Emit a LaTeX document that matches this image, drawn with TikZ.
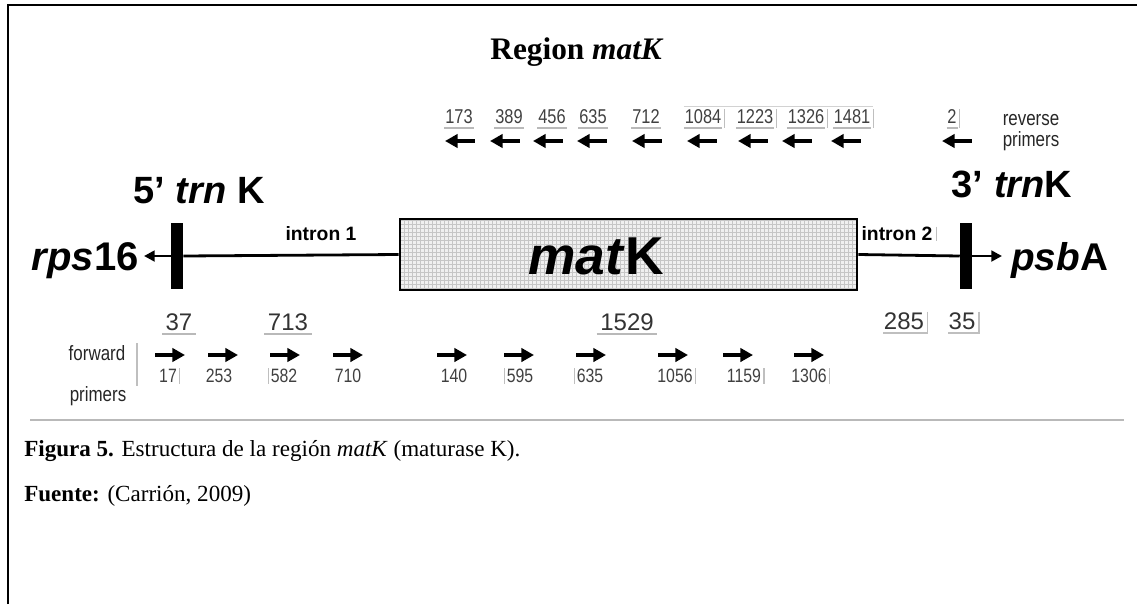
\documentclass[tikz,border=0pt]{standalone}
\usepackage{fontspec}
\setmainfont{Liberation Serif}
\newfontfamily\hv{Liberation Sans}
\newfontfamily\hvn[FakeStretch=0.82]{Liberation Sans}
\usetikzlibrary{arrows.meta,patterns}

\tikzset{
  frameline/.style={line width=2pt, black},
  sep/.style={line width=1.6pt, gray!55},
  gene/.style={font=\hv\bfseries, inner sep=0pt, anchor=base},
  intron/.style={font=\hv\bfseries\fontsize{14.5}{15}\selectfont, inner sep=0pt},
  exonbar/.style={fill=black, inner sep=0pt, minimum width=9pt, minimum height=49.5pt},
  spine/.style={line width=2.1pt, black},
  rnum/.style={font=\hvn\fontsize{15}{15}\selectfont, text=black!75, inner sep=0.5pt},
  fnum/.style={font=\hvn\fontsize{14.5}{15}\selectfont, text=black!75, inner sep=0.5pt},
  bnum/.style={font=\hv\fontsize{18}{18}\selectfont, text=black!80, inner sep=0.5pt},
  side/.style={font=\hvn\fontsize{15.5}{16}\selectfont, text=black!85, inner sep=0pt},
  ul/.style={line width=1.4pt, gray!55},
  tick/.style={line width=0.8pt, gray!50},
  rarrow/.style={line width=2.8pt, {Triangle[length=9.5pt,width=10pt]}-},
  farrow/.style={line width=2.8pt, -{Triangle[length=9.5pt,width=10pt]}},
  endarrow/.style={spine, -{Triangle[length=8pt,width=8pt]}}
}

\begin{document}
\begin{tikzpicture}[x=0.75pt,y=-0.75pt]
\useasboundingbox (0,0) rectangle (1137,604);

% frame
\coordinate (fa) at (8,604);
\coordinate (fb) at (8,5);
\coordinate (fc) at (1137,5);
\draw[frameline] (fa) -- (fb) -- (fc);

% title
\node[inner sep=0pt, anchor=base, font=\bfseries\fontsize{23.5}{24}\selectfont] (title) at (577,59) {Region \textit{matK}};

% gene model
\node[exonbar] (bar5) at (177,256) {};
\node[exonbar] (bar3) at (966,256) {};
\node[draw=black, line width=2pt, preaction={fill=gray!12}, pattern=grid, pattern color=gray!45,
      minimum width=342.75pt, minimum height=53.25pt, inner sep=0pt] (box) at (628.5,254.5) {};
\node[font=\hv\bfseries\fontsize{40}{40}\selectfont, inner sep=0pt] (matk) at (596,256) {\textit{mat}K};

\coordinate (ltip) at (144,256);
\coordinate (rtip) at (1002,256);
\draw[spine] (bar5.east) -- (box.west);
\draw[spine] (box.east) -- (bar3.west);
\draw[endarrow] (bar5.west) -- (ltip);
\draw[endarrow] (bar3.east) -- (rtip);

\node[gene, anchor=base east, font=\hv\bfseries\fontsize{30}{30}\selectfont] (rps) at (139,270) {\textit{rps}16};
\node[gene, anchor=base west, font=\hv\bfseries\fontsize{29}{30}\selectfont] (psb) at (1011,270) {\textit{psb}A};
\node[gene, font=\hv\bfseries\fontsize{28.5}{30}\selectfont] (trn5) at (199,203) {5’ \textit{trn} K};
\node[gene, font=\hv\bfseries\fontsize{28.5}{30}\selectfont] (trn3) at (1012,197) {3’ \textit{trn}K};

\node[intron] (in1) at (321,234) {intron 1};
\node[intron] (in2) at (897,234) {intron 2};
\draw[tick] ([xshift=3pt]in2.north east) -- ([xshift=3pt]in2.south east);

% reverse primers
\foreach \n/\x/\ax in {173/459/460, 389/509/505, 456/552/548, 635/593/592, 712/646/647,
                       1084/703/702, 1223/755/753, 1326/806/797, 1481/852/846, 2/952/957}{
  \node[rnum] (r\n) at (\x,117) {\n};
  \draw[ul] ([yshift=-2pt]r\n.south west) -- ([yshift=-2pt]r\n.south east);
  \coordinate (ra\n) at (\ax-15,141);
  \coordinate (rb\n) at (\ax+15,141);
  \draw[rarrow] (ra\n) -- (rb\n);
}
\foreach \n in {1084,1223,1326,1481,2}{
  \draw[tick] ([xshift=1.5pt]r\n.north east) -- ([xshift=1.5pt,yshift=-2pt]r\n.south east);
}
\draw[tick, gray!35] ([yshift=2pt]r1084.north west) -- ([yshift=2pt,xshift=1.5pt]r1481.north east);
\node[side] (rev) at (1031,120) {reverse};
\node[side] (revp) at (1031,141) {primers};

% lengths of the segments
\foreach \n/\x in {37/179, 713/288, 1529/627}{
  \node[bnum] (b\n) at (\x,322) {\n};
  \draw[ul] ([yshift=-2pt,xshift=-2pt]b\n.south west) -- ([yshift=-2pt,xshift=2pt]b\n.south east);
}
\node[bnum] (b285) at (904,321) {285};
\node[bnum] (b35) at (962,321) {35};
\foreach \n in {285,35}{
  \draw[tick, line width=1.2pt] ([xshift=2pt]b\n.north east) -- ([xshift=2pt,yshift=-2pt]b\n.south east)
        -- ([yshift=-2pt]b\n.south west);
}

% forward primers
\foreach \n/\x/\ax in {17/168/170, 253/219/223, 582/284/285, 710/348/348, 140/454/452,
                       595/520/519, 635/590/591, 1056/675/673, 1159/744/738, 1306/809/809}{
  \node[fnum] (f\n) at (\x,376) {\n};
  \coordinate (fa\n) at (\ax-15,355);
  \coordinate (fb\n) at (\ax+15,355);
  \draw[farrow] (fa\n) -- (fb\n);
}
\foreach \n in {17,1056,1159,1306}{
  \draw[tick] ([xshift=1.5pt]f\n.north east) -- ([xshift=1.5pt]f\n.south east);
}
\foreach \n in {582,635,595}{
  \draw[tick] ([xshift=-1pt]f\n.north west) -- ([xshift=-1pt]f\n.south west);
}
\node[side] (fwd) at (97,353) {forward};
\node[side] (fwdp) at (98,396) {primers};
\coordinate (fta) at (137,343);
\coordinate (ftb) at (137,386);
\draw[tick] (fta) -- (ftb);

% rule under the figure
\coordinate (sa) at (30,420);
\coordinate (sb) at (1124,420);
\draw[sep] (sa) -- (sb);

% caption
\node[inner sep=0pt, anchor=base west, font=\fontsize{17.3}{20}\selectfont] (cap) at (24,456)
  {\textbf{Figura 5.} Estructura de la región \textit{matK} (maturase K).};
\node[inner sep=0pt, anchor=base west, font=\fontsize{17.3}{20}\selectfont] (src) at (24,501)
  {\textbf{Fuente:} (Carrión, 2009)};
\end{tikzpicture}
\end{document}
